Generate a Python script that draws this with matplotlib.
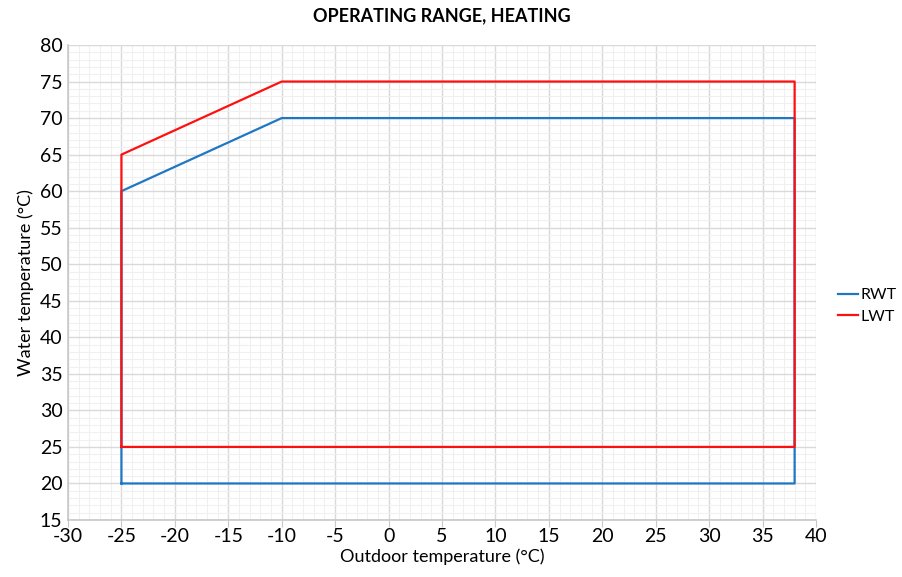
import matplotlib
matplotlib.use("Agg")
import matplotlib.pyplot as plt
from matplotlib.ticker import MultipleLocator

plt.rcParams['font.family'] = ['Lato', 'DejaVu Sans']
plt.rcParams['axes.unicode_minus'] = False

rwt_x = [-25, -25, -10, 38, 38, -25]
rwt_y = [20, 60, 70, 70, 20, 20]
lwt_x = [-25, -25, -10, 38, 38, -25]
lwt_y = [25, 65, 75, 75, 25, 25]

fig = plt.figure(figsize=(9.02, 5.77), dpi=100)
ax = fig.add_axes([68/902, 1-520/577, (816-68)/902, (520-45)/577])

ax.plot(rwt_x, rwt_y, color='#1f77c4', lw=1.6, label='RWT', zorder=3)
ax.plot(lwt_x, lwt_y, color='#ff1010', lw=1.6, label='LWT', zorder=4)

ax.set_xlim(-30, 40)
ax.set_ylim(15, 80)
ax.xaxis.set_major_locator(MultipleLocator(5))
ax.yaxis.set_major_locator(MultipleLocator(5))
ax.xaxis.set_minor_locator(MultipleLocator(1))
ax.yaxis.set_minor_locator(MultipleLocator(1))
ax.grid(which='major', color='#d9d9d9', lw=1.0, zorder=0)
ax.grid(which='minor', color='#f0f0f0', lw=0.8, zorder=0)
ax.set_axisbelow(True)

for s in ['top', 'right']:
    ax.spines[s].set_visible(False)
for s in ['left', 'bottom']:
    ax.spines[s].set_color('#c8c8c8')
    ax.spines[s].set_linewidth(1.2)

ax.tick_params(axis='x', which='major', length=5, color='#c8c8c8', labelsize=14, pad=1)
ax.tick_params(axis='y', which='major', length=0, labelsize=14, pad=4)
ax.tick_params(which='minor', length=0)

ax.set_xlabel('Outdoor temperature (°C)', fontsize=13, labelpad=2)
ax.set_ylabel('Water temperature (°C)', fontsize=13, labelpad=4)
ax.set_title('OPERATING RANGE, HEATING', fontsize=13, fontweight='bold', pad=17)

fig.legend(loc='center left', bbox_to_anchor=(838/902, 1-306/577), frameon=False,
           fontsize=11.5, handlelength=1.25, handletextpad=0.15, labelspacing=0.45,
           borderaxespad=0, borderpad=0)

fig.savefig('out.png', dpi=100)
